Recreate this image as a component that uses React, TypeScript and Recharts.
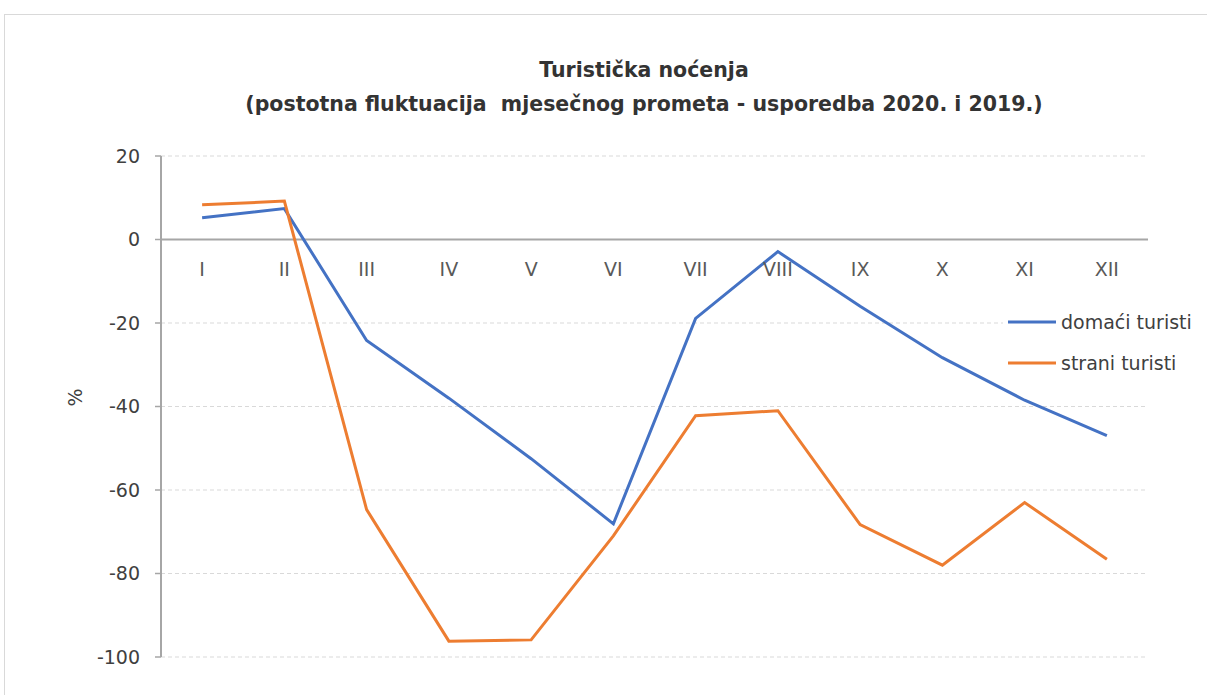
import { LineChart, Line, XAxis, YAxis, CartesianGrid, ReferenceLine, Legend, LabelList } from "recharts";

const months = ["I", "II", "III", "IV", "V", "VI", "VII", "VIII", "IX", "X", "XI", "XII"];
const domaci = [5.2, 7.4, -24.2, -38, -52.5, -68.1, -18.9, -2.9, -16, -28.3, -38.5, -47];
const strani = [8.3, 9.2, -64.7, -96.2, -95.9, -71, -42.2, -41, -68.3, -78, -63, -76.6];
const yTicks = [-100, -80, -60, -40, -20, 0, 20];

const font = "'DejaVu Sans', sans-serif";
const textColor = "#404040";

const data = months.map((m, i) => ({
  month: m,
  domaci: domaci[i],
  strani: strani[i],
  zero: 0,
}));

function LegendBox({ payload }: any) {
  const items = (payload || []).filter((p: any) => p.dataKey !== "zero" && p.type !== "none");
  return (
    <div style={{ background: "#fff", padding: "4px 0 4px 5px" }}>
      {items.map((p: any) => (
        <div key={p.value} style={{ display: "flex", alignItems: "center", height: 41 }}>
          <svg width={48} height={6} style={{ marginRight: 5 }}>
            <line x1={0} y1={3} x2={48} y2={3} stroke={p.color} strokeWidth={3} />
          </svg>
          <span style={{ fontFamily: font, fontSize: 19, color: textColor }}>{p.value}</span>
        </div>
      ))}
    </div>
  );
}

export default function App() {
  return (
    <div style={{ position: "absolute", left: 0, top: 0, width: 1207, height: 695, overflow: "hidden", background: "#fff" }}>
      <div style={{ position: "absolute", left: 4, top: 14, width: 1220, height: 720, border: "1px solid #d9d9d9" }} />
      <div
        style={{
          position: "absolute",
          left: 244,
          top: 53,
          width: 800,
          textAlign: "center",
          fontFamily: font,
          fontWeight: "bold",
          fontSize: 20.5,
          lineHeight: "34px",
          color: "#333",
        }}
      >
        <div>Turistička noćenja</div>
        <div>(postotna fluktuacija&nbsp; mjesečnog prometa - usporedba 2020. i 2019.)</div>
      </div>
      <div style={{ position: "absolute", left: 0, top: 0 }}>
        <LineChart width={1207} height={695} data={data} margin={{ top: 156, right: 59, bottom: 38, left: 0 }}>
          <CartesianGrid vertical={false} stroke="#d9d9d9" strokeDasharray="4 3" />
          <XAxis dataKey="month" scale="band" hide />
          <YAxis
            domain={[-100, 20]}
            ticks={yTicks}
            width={161}
            tickSize={6}
            tickMargin={15}
            axisLine={{ stroke: "#a6a6a6", strokeWidth: 2 }}
            tickLine={{ stroke: "#a6a6a6", strokeWidth: 1.5 }}
            tick={{ fontFamily: font, fontSize: 19, fill: textColor }}
            label={{ value: "%", angle: -90, position: "insideLeft", offset: 75, fontFamily: font, fontSize: 19, fill: textColor }}
          />
          <ReferenceLine y={0} stroke="#a6a6a6" strokeWidth={2} />
          <Line
            dataKey="zero"
            stroke="none"
            dot={false}
            activeDot={false}
            legendType="none"
            isAnimationActive={false}
          >
            <LabelList dataKey="month" position="bottom" offset={23} fill="#595959" fontFamily={font} fontSize={19} />
          </Line>
          <Line
            name="domaći turisti"
            dataKey="domaci"
            type="linear"
            stroke="#4472C4"
            strokeWidth={3}
            dot={false}
            isAnimationActive={false}
          />
          <Line
            name="strani turisti"
            dataKey="strani"
            type="linear"
            stroke="#ED7D31"
            strokeWidth={3}
            dot={false}
            isAnimationActive={false}
          />
          <Legend
            layout="vertical"
            align="center"
            verticalAlign="middle"
            content={<LegendBox />}
            wrapperStyle={{ left: 1003, top: 297, width: 200 }}
          />
        </LineChart>
      </div>
    </div>
  );
}
